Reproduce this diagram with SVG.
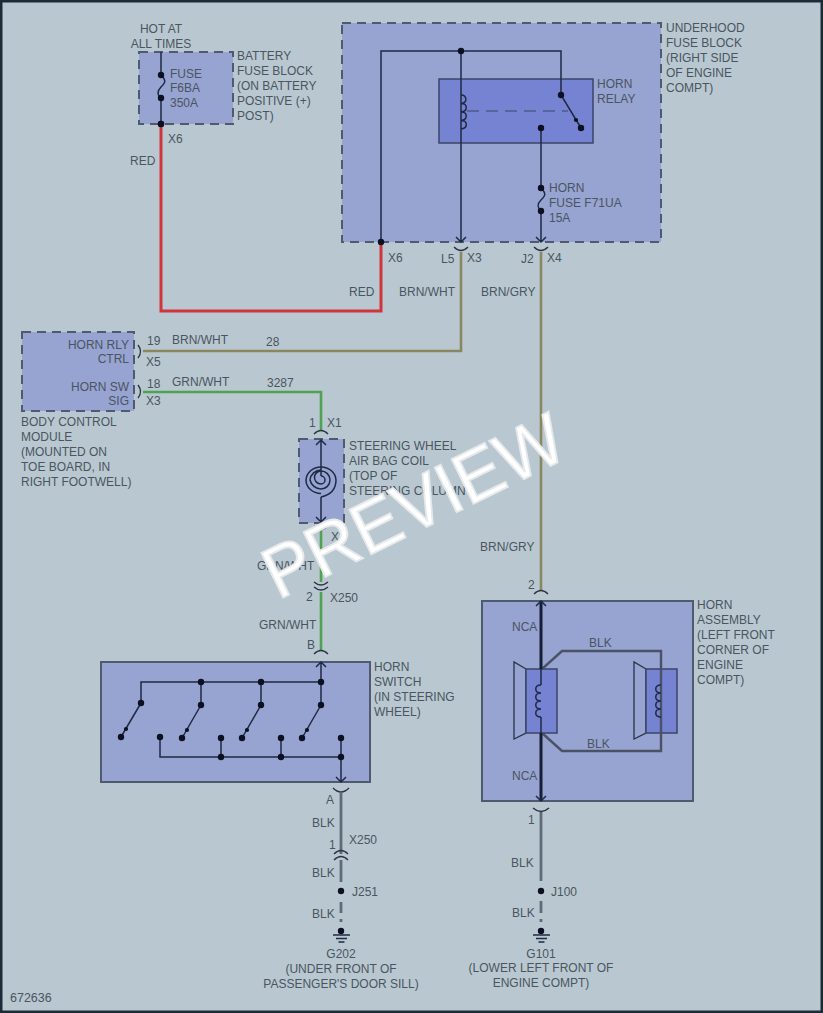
<svg xmlns="http://www.w3.org/2000/svg" width="823" height="1013" viewBox="0 0 823 1013">
<defs>
<style>
text{font-family:"Liberation Sans",Arial,sans-serif;font-size:12px;fill:#4a5560}
.m{text-anchor:middle}.e{text-anchor:end}
.dash{fill:#97a3d1;stroke:#4f5a70;stroke-width:2;stroke-dasharray:9 6}
.box{fill:#97a3d1;stroke:#4f5a70;stroke-width:2}
.inner{fill:#7683d3;stroke:#3c4566;stroke-width:1.5}
.cone{fill:#97a3d1;stroke:#2a3348;stroke-width:1.3}
.w{fill:none;stroke:#1f2a44;stroke-width:1.5}
.wb{fill:none;stroke:#4a5366;stroke-width:2.4}
.red{fill:none;stroke:#d0353c;stroke-width:3}
.brn{fill:none;stroke:#8a8660;stroke-width:2.6}
.grn{fill:none;stroke:#4fa24f;stroke-width:2.6}
.blk{fill:none;stroke:#5f6b78;stroke-width:2.8}
.c{fill:none;stroke:#2a3348;stroke-width:1.4}
.d{fill:#0c1020}
</style>
<circle id="dot" r="3.2" class="d"/>
<circle id="tick" r="2.1" class="d"/>
</defs>
<rect id="background" x="1" y="1" width="821" height="1011" fill="#b9c8d0" stroke="#1d2b36" stroke-width="3"/>

<g id="battery-fuse-block">
<rect class="dash" x="139" y="52" width="94" height="72"/>
<text x="170" y="78">FUSE</text><text x="170" y="92">F6BA</text><text x="170" y="107">350A</text>
<text x="237" y="60">BATTERY</text><text x="237" y="75">FUSE BLOCK</text><text x="237" y="90">(ON BATTERY</text><text x="237" y="105">POSITIVE (+)</text><text x="237" y="120">POST)</text>
<text class="m" x="161" y="33">HOT AT</text><text class="m" x="161" y="48">ALL TIMES</text>
<path class="w" d="M161 52V75M161 99V124M161 75c6 6 4 8 0 12c-4 4-4 8 0 12"/>
<use href="#dot" x="161" y="75"/><use href="#dot" x="161" y="98"/><use href="#dot" x="161" y="124"/>
</g>

<g id="underhood-fuse-block">
<rect class="dash" x="342" y="23" width="319" height="219"/>
<rect class="inner" x="439" y="79" width="154" height="64"/>
<text x="666" y="32">UNDERHOOD</text><text x="666" y="47">FUSE BLOCK</text><text x="666" y="62">(RIGHT SIDE</text><text x="666" y="77">OF ENGINE</text><text x="666" y="92">COMPT)</text>
<text x="597" y="88">HORN</text><text x="597" y="103">RELAY</text>
<text x="549" y="192">HORN</text><text x="549" y="207">FUSE F71UA</text><text x="549" y="222">15A</text>
<path class="w" d="M381 242V51H561V95L581 128M461 51V242M456 237L461 242L466 237M541 128V188M541 211V242M536 237L541 242L546 237"/>
<path class="w" d="M461 95c6 0 7 8 0 8.500c7 0 7 8 0 8.500c7 0 7 8 0 8.500c7 0 7 8 0 8.500"/>
<path class="w" d="M541 188c6 6 4 8 0 12c-4 4-4 7 0 11"/>
<path fill="none" stroke="#3c4566" stroke-width="1" stroke-dasharray="12 7" d="M467 111H568"/>
<use href="#dot" x="461" y="51"/><use href="#dot" x="561" y="95"/><use href="#dot" x="581" y="128"/><use href="#tick" x="576" y="120"/><use href="#dot" x="541" y="128"/><use href="#dot" x="541" y="188"/><use href="#dot" x="541" y="211"/>
</g>

<g id="body-control-module">
<rect class="dash" x="22" y="332" width="112" height="79"/>
<text class="e" x="129" y="349">HORN RLY</text><text class="e" x="129" y="363">CTRL</text><text class="e" x="129" y="391">HORN SW</text><text class="e" x="129" y="405">SIG</text>
<text x="21" y="426">BODY CONTROL</text><text x="21" y="441">MODULE</text><text x="21" y="456">(MOUNTED ON</text><text x="21" y="471">TOE BOARD, IN</text><text x="21" y="486">RIGHT FOOTWELL)</text>
</g>

<g id="steering-wheel-coil">
<rect class="dash" x="299" y="439" width="45" height="84"/>
<text x="349" y="450">STEERING WHEEL</text><text x="349" y="465">AIR BAG COIL</text><text x="349" y="480">(TOP OF</text><text x="349" y="495">STEERING COLUMN</text>
<path class="w" d="M321 440V476M316 445L321 440L326 445M321 497V522M316 517L321 522L326 517"/>
<path class="w" d="M321 476A4 4 0 0 1 321 484A6.500 6.500 0 0 1 321 471A9 9 0 0 1 321 489A11.500 11.500 0 0 1 310 480A11 11 0 0 1 321 470M321 470M321 467A15 13.500 0 0 1 336 480C336 490 330 495 321 497"/>
<path class="w" d="M321 467A15 13.500 0 0 0 306 480A15 13.500 0 0 0 321 493.500"/>
</g>

<g id="horn-switch">
<rect class="box" x="101" y="662" width="269" height="120"/>
<text x="374" y="671">HORN</text><text x="374" y="686">SWITCH</text><text x="374" y="701">(IN STEERING</text><text x="374" y="716">WHEEL)</text>
<path class="w" d="M141 703V682H321M201 682V705M261 682V705M321 662V705M316 667L321 662L326 667M141 703L121 737M201 705L182 738M261 705L242 738M321 705L302 738M160 737V757H341M221 738V757M281 738V757M341 738V782M336 777L341 782L346 777"/>
<use href="#dot" x="141" y="703"/><use href="#dot" x="121" y="737"/><use href="#tick" x="126" y="729"/><use href="#dot" x="201" y="682"/><use href="#dot" x="201" y="705"/><use href="#dot" x="182" y="738"/><use href="#tick" x="187" y="730"/><use href="#dot" x="261" y="682"/><use href="#dot" x="261" y="705"/><use href="#dot" x="242" y="738"/><use href="#tick" x="247" y="730"/><use href="#dot" x="321" y="682"/><use href="#dot" x="321" y="705"/><use href="#dot" x="302" y="738"/><use href="#tick" x="307" y="730"/><use href="#dot" x="160" y="737"/><use href="#dot" x="221" y="738"/><use href="#dot" x="221" y="757"/><use href="#dot" x="281" y="738"/><use href="#dot" x="281" y="757"/><use href="#dot" x="341" y="738"/><use href="#dot" x="341" y="757"/>
</g>

<g id="horn-assembly">
<rect class="box" x="482" y="601" width="211" height="200"/>
<text x="697" y="609">HORN</text><text x="697" y="624">ASSEMBLY</text><text x="697" y="639">(LEFT FRONT</text><text x="697" y="654">CORNER OF</text><text x="697" y="669">ENGINE</text><text x="697" y="684">COMPT)</text>
<path class="cone" d="M526 669L514 662V739L526 733ZM646 669L634 662V739L646 733Z"/>
<rect class="inner" x="526" y="669" width="31" height="64"/><rect class="inner" x="646" y="669" width="31" height="64"/>
<path class="wb" d="M542 669L562 651H661V751H562L542 733"/>
<path fill="none" stroke="#161e34" stroke-width="3" d="M541 601V669M541 733V801"/>
<path class="w" d="M536 606L541 601L546 606M536 796L541 801L546 796M541 669V685M541 717V733"/>
<path class="w" d="M541 685c-7 0-7 8 0 8c-7 0-7 8 0 8c-7 0-7 8 0 8c-7 0-7 8 0 8M661 685c-7 0-7 8 0 8c-7 0-7 8 0 8c-7 0-7 8 0 8c-7 0-7 8 0 8"/>
<text x="512" y="631">NCA</text><text x="512" y="780">NCA</text><text x="589" y="647">BLK</text><text x="587" y="748">BLK</text>
</g>

<g id="connectors">
<path class="red" d="M161 124V311H381V242"/>
<path class="brn" d="M461 252V351H143"/>
<path class="brn" d="M541 252V591"/>
<path class="grn" d="M143 392H321V431"/>
<path class="grn" d="M321 530V582"/><path class="grn" d="M321 592V651"/>
<path class="blk" d="M341 793V854M341 860V882M341 902V913M341 919V922"/>
<path class="blk" d="M541 811V881M541 901V913M541 919V922"/>
<path class="c" d="M138 345q5 6.500 0 13M138 385q5 6.500 0 13"/>
<path class="c" d="M454 247q7 7 14 0M534 247q7 7 14 0"/>
<path class="c" d="M314 434q7-7 14 0M314 526q7 7 14 0M314 582q7 6 14 0M314 587q7 6 14 0M314 654q7-7 14 0M333 788q8 8 16 0M334 854q7-7 14 0M334 860q7-7 14 0M534 594q7-7 14 0M533 808q8 7 16 0"/>
<use href="#dot" x="381" y="242"/><use href="#dot" x="161" y="124"/>
<use href="#dot" x="341" y="891"/><use href="#dot" x="541" y="891"/>
</g>

<g id="g202">
<path class="w" d="M333 935H350M336 938.500H347M338.500 942H344.500"/><use href="#dot" x="341" y="931"/>
<text class="m" x="341" y="958">G202</text><text class="m" x="341" y="973">(UNDER FRONT OF</text><text class="m" x="341" y="988">PASSENGER'S DOOR SILL)</text>
</g>
<g id="g101">
<path class="w" d="M533 935H550M536 938.500H547M538.500 942H544.500"/><use href="#dot" x="541" y="931"/>
<text class="m" x="541" y="958">G101</text><text class="m" x="541" y="972">(LOWER LEFT FRONT OF</text><text class="m" x="541" y="987">ENGINE COMPT)</text>
</g>

<g id="wire-labels">
<text x="168" y="143">X6</text><text x="130" y="165">RED</text>
<text x="388" y="262">X6</text><text x="441" y="263">L5</text><text x="467" y="262">X3</text><text x="521" y="263">J2</text><text x="547" y="262">X4</text>
<text x="349" y="296">RED</text><text x="399" y="296">BRN/WHT</text><text x="481" y="296">BRN/GRY</text>
<text x="147" y="345">19</text><text x="172" y="344">BRN/WHT</text><text x="266" y="346">28</text><text x="146" y="366">X5</text>
<text x="147" y="388">18</text><text x="172" y="386">GRN/WHT</text><text x="267" y="387">3287</text><text x="146" y="405">X3</text>
<text x="309" y="427">1</text><text x="327" y="427">X1</text>
<text x="306" y="541">9</text><text x="331" y="541">X2</text>
<text x="257" y="570">GRN/WHT</text>
<text x="306" y="601">2</text><text x="330" y="602">X250</text>
<text x="259" y="629">GRN/WHT</text><text x="307" y="649">B</text>
<text x="480" y="551">BRN/GRY</text><text x="528" y="589">2</text>
<text x="326" y="804">A</text><text x="312" y="827">BLK</text><text x="349" y="844">X250</text><text x="329" y="849">1</text><text x="312" y="877">BLK</text><text x="352" y="896">J251</text><text x="312" y="918">BLK</text>
<text x="528" y="824">1</text><text x="511" y="867">BLK</text><text x="551" y="896">J100</text><text x="512" y="917">BLK</text>
<text x="10" y="1002" style="font-size:12.500px">672636</text>
</g>

<text id="watermark" transform="translate(278 600) rotate(-26.200)" style="font-size:72px;fill:#fff;stroke:#e6eaec;stroke-width:1.800" textLength="326" lengthAdjust="spacingAndGlyphs">PREVIEW</text>
</svg>
